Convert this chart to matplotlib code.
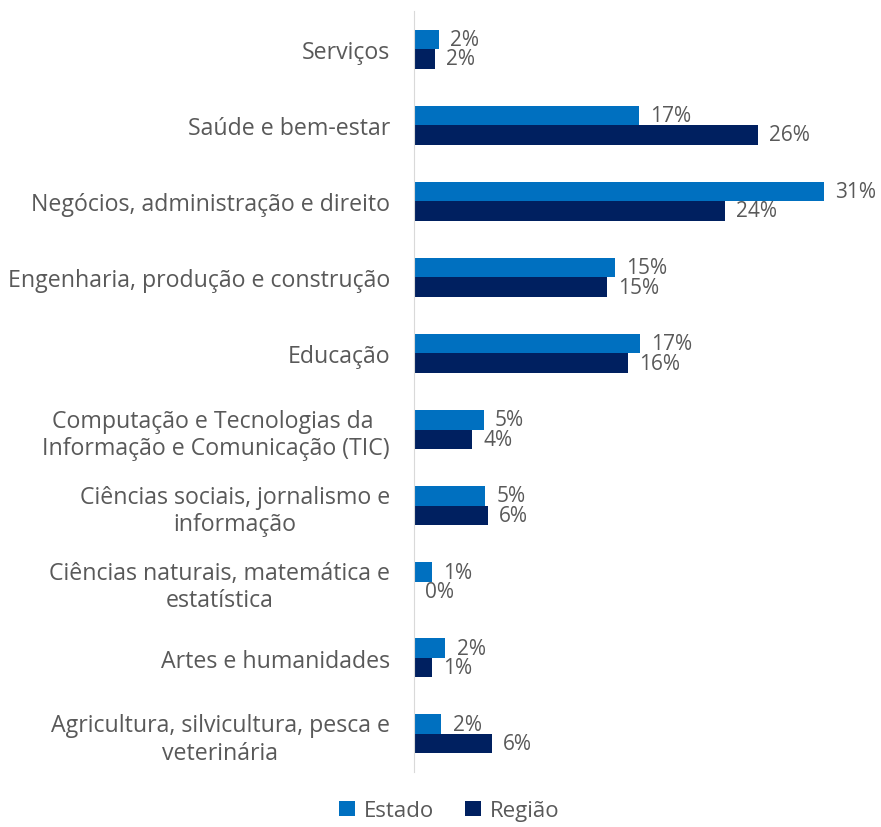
import numpy as np
import matplotlib.pyplot as plt

plt.rcParams['font.family'] = ['Open Sans', 'DejaVu Sans']

categorias = ['Serviços', 'Saúde e bem-estar', 'Negócios, administração e direito',
              'Engenharia, produção e construção', 'Educação',
              'Computação e Tecnologias da \nInformação e Comunicação (TIC)',
              'Ciências sociais, jornalismo e\ninformação',
              'Ciências naturais, matemática e\nestatística',
              'Artes e humanidades',
              'Agricultura, silvicultura, pesca e\nveterinária']
estado = [1.9, 17.0, 31.0, 15.2, 17.1, 5.3, 5.4, 1.4, 2.4, 2.1]
regiao = [1.6, 26.0, 23.5, 14.6, 16.2, 4.4, 5.6, 0.0, 1.4, 5.9]

cor_estado = '#0070C0'
cor_regiao = '#002060'
cinza = '#595959'

fig = plt.figure(figsize=(8.81, 8.28), dpi=100)
ax = fig.add_axes([413.5 / 881, 55 / 828, (877 - 413.5) / 881, 761 / 828])

y = np.arange(len(categorias))
h = 0.256
ax.barh(y - h / 2, estado, height=h, color=cor_estado, label='Estado')
ax.barh(y + h / 2, regiao, height=h, color=cor_regiao, label='Região')

for i in range(len(categorias)):
    ax.text(estado[i] + 0.85, y[i] - h / 2, f'{estado[i]:.0f}%', va='center',
            ha='left', fontsize=15, color=cinza)
    ax.text(regiao[i] + 0.85, y[i] + h / 2, f'{regiao[i]:.0f}%', va='center',
            ha='left', fontsize=15, color=cinza)

ax.set_xlim(0, 35)
ax.set_ylim(len(categorias) - 0.5, -0.5)
ax.set_yticks(y)
ax.set_yticklabels(categorias, fontsize=16.7, color=cinza, multialignment='center')
ax.tick_params(axis='y', length=0, pad=17)
ax.set_xticks([])
for s in ['top', 'right', 'bottom']:
    ax.spines[s].set_visible(False)
ax.spines['left'].set_color('#D9D9D9')

fig.legend(loc='lower center', bbox_to_anchor=(0.51, -0.017), ncol=2, frameon=False,
           fontsize=16, labelcolor=cinza, handlelength=0.7, handleheight=0.7,
           handletextpad=0.4, columnspacing=1.4)

plt.savefig('out.png', dpi=100)
